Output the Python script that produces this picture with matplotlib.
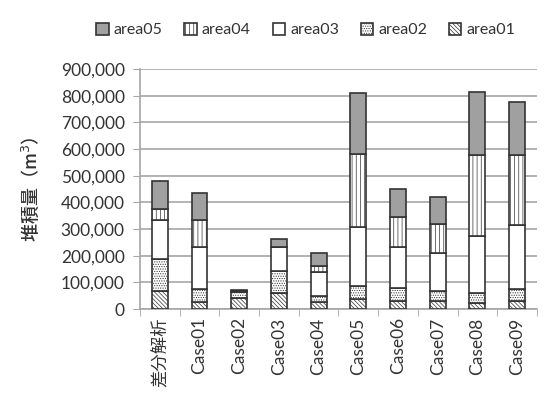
import numpy as np
import matplotlib.pyplot as plt
from matplotlib.ticker import FuncFormatter

plt.rcParams['font.family'] = ['Lato', 'Noto Sans CJK JP', 'DejaVu Sans']
plt.rcParams['hatch.linewidth'] = 0.5

# deposition volume per area (m3)
cases = ['差分解析', 'Case01', 'Case02', 'Case03', 'Case04',
         'Case05', 'Case06', 'Case07', 'Case08', 'Case09']
area01 = [66000, 27000, 40000, 61000, 25000, 37000, 31000, 31000, 24000, 31000]
area02 = [120000, 47000, 24000, 83000, 25000, 49000, 47000, 38000, 37000, 43000]
area03 = [148000, 157000, 2000, 88000, 88000, 223000, 156000, 142000, 213000, 240000]
area04 = [40000, 103000, 2000, 2000, 24000, 272000, 110000, 107000, 302000, 262000]
area05 = [107000, 100000, 3000, 27000, 47000, 228000, 105000, 101000, 238000, 200000]

series = [
    ('area01', area01, 'white', '\\' * 8),
    ('area02', area02, 'white', '.' * 7),
    ('area03', area03, 'white', ''),
    ('area04', area04, 'white', '||||'),
    ('area05', area05, '#a0a0a0', ''),
]

fig = plt.figure(figsize=(5.46, 4.01), dpi=100)
ax = fig.add_axes([0.2564, 0.2294, 0.727, 0.5985])

x = np.arange(len(cases))
bottom = np.zeros(len(cases))
handles = {}
for name, vals, fc, hatch in series:
    bars = ax.bar(x, vals, 0.4, bottom=bottom, color=fc, edgecolor='#333333',
                  hatch=hatch, linewidth=1.2, label=name, zorder=3)
    handles[name] = bars
    bottom += np.array(vals)

ax.set_xlim(-0.5, len(cases) - 0.5)
ax.set_ylim(0, 900000)
ax.set_yticks(np.arange(0, 900001, 100000))
ax.yaxis.set_major_formatter(FuncFormatter(lambda v, p: f'{int(v):,}'))
ax.yaxis.grid(True, color='#a6a6a6', linewidth=1.2, zorder=0)

ax.set_xticks(x)
ax.set_xticklabels(cases, rotation=90, fontsize=12.5, color='#333333')
ax.set_xticks(np.arange(-0.5, len(cases)), minor=True)
ax.tick_params(axis='x', which='major', length=0, pad=6)
ax.tick_params(axis='x', which='minor', length=5, color='#a6a6a6', direction='out')
ax.tick_params(axis='y', length=5, color='#a6a6a6', labelsize=12.5,
               labelcolor='#333333', pad=6)

for side in ['top', 'right']:
    ax.spines[side].set_visible(False)
for side in ['left', 'bottom']:
    ax.spines[side].set_color('#a6a6a6')
    ax.spines[side].set_linewidth(1.2)

ax.set_ylabel('堆積量（m$^3$）', fontsize=13, color='#333333', labelpad=14,
              family=['Noto Sans CJK JP', 'DejaVu Sans'], fontweight='medium')

order = ['area05', 'area04', 'area03', 'area02', 'area01']
fig.legend([handles[n] for n in order], order, loc='center', ncol=5,
           bbox_to_anchor=(0.56, 0.925), frameon=False, fontsize=11.5,
           handlelength=0.8, handleheight=0.8, handletextpad=0.3,
           columnspacing=1.35, labelcolor='#333333')

fig.savefig('out.png', dpi=100)
